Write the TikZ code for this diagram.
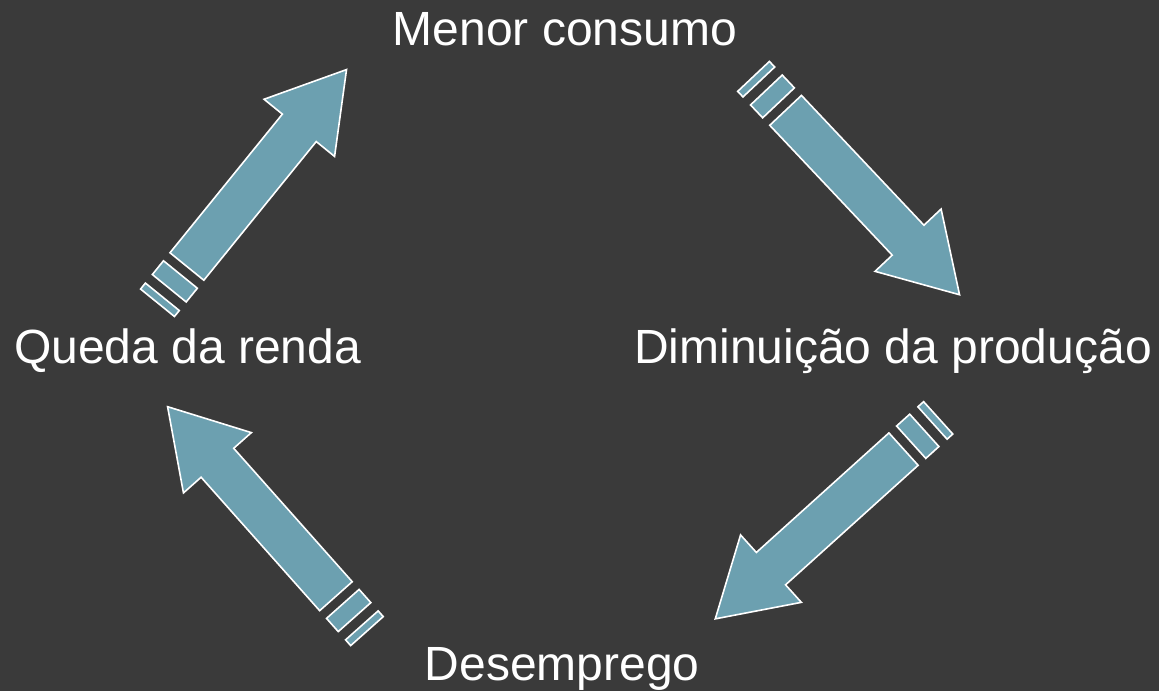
\documentclass[tikz,border=0pt]{standalone}
\usepackage{fontspec}
\setmainfont{Liberation Sans}
\definecolor{bgcol}{RGB}{58,58,58}
\definecolor{arrowfill}{RGB}{108,160,176}
\tikzset{
  lbl/.style={text=white, inner sep=0pt, anchor=base west, font=\fontsize{48}{58}\selectfont},
  blockarrow/.style={fill=arrowfill, draw=white, line width=1.6pt, line join=miter},
}
\newcommand{\stripedarrow}[2]{%
  \begin{scope}[shift={(#1)}, rotate=#2]
    \path[blockarrow] (0.8,-21.8) -- (8.5,-21.8) -- (8.5,21.8) -- (0.8,21.8) -- cycle;
    \path[blockarrow] (19.5,-21.8) -- (37.2,-21.8) -- (37.2,21.8) -- (19.5,21.8) -- cycle;
    \path[blockarrow] (47.5,-21.8) -- (226,-21.8) -- (226,-45.4) -- (301,0)
      -- (226,45.4) -- (226,21.8) -- (47.5,21.8) -- cycle;
  \end{scope}}
\begin{document}
\begin{tikzpicture}[x=1pt,y=-1pt]
  \fill[bgcol] (0,0) rectangle (1159,691);
  \useasboundingbox (0,0) rectangle (1159,691);
  % labels
  \node[lbl] (menor) at (392.5,45.9) {Menor consumo};
  \node[lbl] (dimin) at (634,363.5) {Diminuição da produção};
  \node[lbl] (desem) at (424.5,680.9) {Desemprego};
  \node[lbl] (queda) at (14,363.5) {Queda da renda};
  % arrow tail points
  \coordinate (a1) at (157,303.4);
  \coordinate (a2) at (753,75.8);
  \coordinate (a3) at (938.8,417.3);
  \coordinate (a4) at (367.5,631.7);
  \stripedarrow{a1}{50.97}
  \stripedarrow{a2}{-46.67}
  \stripedarrow{a3}{-137.96}
  \stripedarrow{a4}{131.62}
\end{tikzpicture}
\end{document}
